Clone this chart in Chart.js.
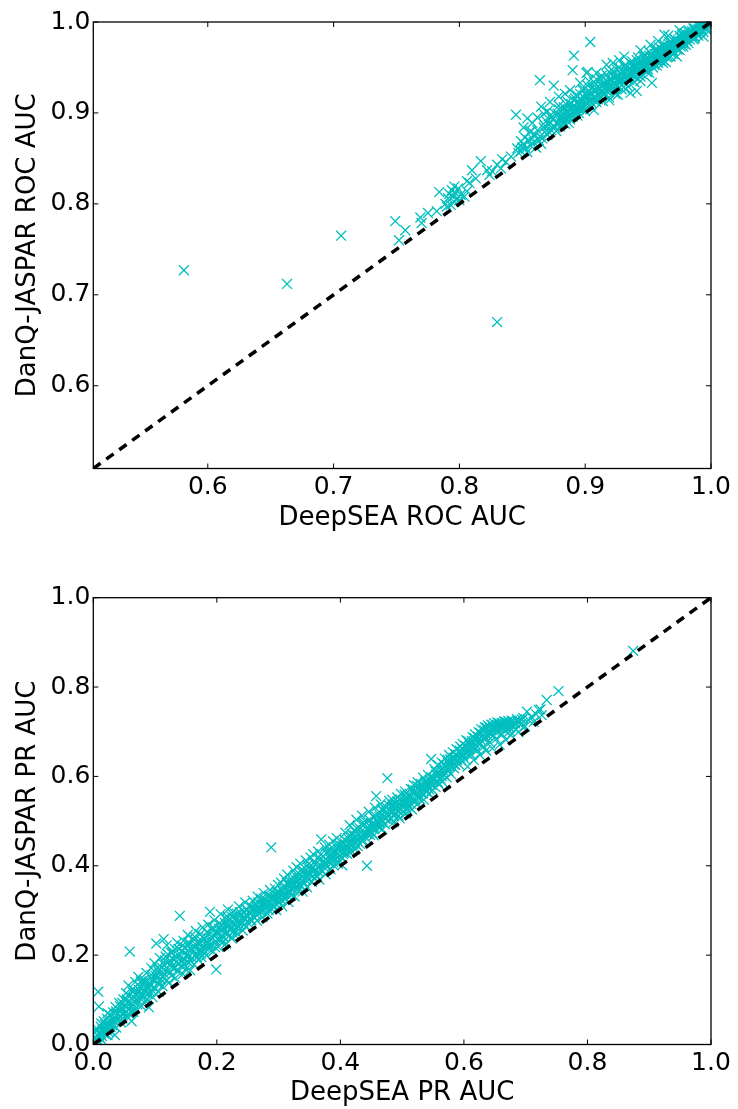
<!DOCTYPE html>
<html>
<head>
<meta charset="UTF-8">
<title>DanQ-JASPAR vs DeepSEA</title>
<style>
	body { margin: 0; background: #fff; }
	.box { position: absolute; left: 0; width: 738px; }
</style>
</head>
<body>
	<script src="https://cdn.jsdelivr.net/npm/chart.js"></script>

	<div class="box" style="top:0; height:555px;"><canvas id="rocChart"></canvas></div>
	<div class="box" style="top:555px; height:554px;"><canvas id="prChart"></canvas></div>

	<script>
		// axis ranges and tick labels
		const rocRange = [0.509, 1.0];
		const rocTicks = [0.6, 0.7, 0.8, 0.9, 1.0];
		const prRange = [0.0, 1.0];
		const prTicks = [0.0, 0.2, 0.4, 0.6, 0.8, 1.0];

		// ROC AUC per target: [DeepSEA, DanQ-JASPAR]
		const rocPoints = [
			[0.581,0.727],[0.663,0.712],[0.706,0.765],[0.830,0.670],
			[0.749,0.781],[0.757,0.771],[0.752,0.760],[0.770,0.779],[0.769,0.785],[0.775,0.790],[0.782,0.792],[0.784,0.813],
			[0.789,0.800],[0.791,0.806],[0.792,0.811],[0.793,0.799],[0.794,0.815],[0.795,0.808],[0.796,0.802],[0.797,0.812],
			[0.798,0.806],[0.799,0.817],[0.800,0.804],[0.801,0.810],[0.796,0.819],[0.790,0.797],
			[0.804,0.808],[0.806,0.814],[0.806,0.825],[0.808,0.823],[0.810,0.837],[0.813,0.828],[0.817,0.847],[0.822,0.837],
			[0.824,0.832],[0.826,0.836],[0.830,0.843],[0.833,0.839],[0.834,0.849],[0.837,0.846],[0.841,0.852],
			[0.846,0.861],[0.849,0.869],[0.845,0.898],[0.854,0.894],[0.847,0.856],[0.849,0.858],[0.850,0.862],[0.851,0.866],
			[0.852,0.873],[0.853,0.861],[0.854,0.857],[0.855,0.870],[0.856,0.879],[0.857,0.864],[0.858,0.872],[0.859,0.868],
			[0.860,0.876],[0.861,0.862],[0.862,0.881],[0.863,0.870],[0.864,0.874],[0.865,0.866],
			[0.851,0.884],[0.858,0.889],[0.862,0.895],[0.867,0.899],[0.857,0.880],
			[0.864,0.936],[0.875,0.930],[0.865,0.907],[0.870,0.902],[0.879,0.918],[0.888,0.925],[0.891,0.963],[0.890,0.947],
			[0.901,0.944],[0.904,0.978],[0.902,0.945],[0.917,0.953],[0.931,0.962],[0.936,0.922],[0.941,0.924],[0.953,0.933],
			[0.963,0.986],[0.973,0.962],[0.964,0.956],[0.994,0.984],
			// main band
			[0.866,0.872],[0.867,0.884],[0.868,0.879],[0.869,0.891],[0.870,0.876],[0.871,0.887],[0.872,0.897],
			[0.873,0.881],[0.874,0.893],[0.875,0.886],[0.876,0.899],[0.877,0.880],[0.878,0.890],[0.879,0.904],
			[0.880,0.885],[0.881,0.897],[0.882,0.892],[0.883,0.906],[0.884,0.888],[0.885,0.901],[0.886,0.912],[0.887,0.895],
			[0.888,0.893],[0.889,0.905],[0.890,0.899],[0.891,0.914],[0.892,0.903],[0.893,0.920],[0.894,0.897],[0.895,0.909],
			[0.896,0.916],[0.897,0.904],[0.898,0.925],[0.899,0.911],[0.900,0.902],[0.901,0.919],[0.902,0.930],[0.903,0.913],
			[0.904,0.907],[0.905,0.922],[0.906,0.915],[0.907,0.934],[0.908,0.926],[0.909,0.912],[0.910,0.929],[0.911,0.919],
			[0.912,0.938],[0.913,0.925],[0.914,0.913],[0.915,0.932],[0.916,0.921],[0.917,0.942],[0.918,0.929],[0.919,0.917],
			[0.920,0.936],[0.921,0.926],[0.922,0.946],[0.923,0.933],[0.924,0.921],[0.925,0.940],[0.926,0.930],[0.927,0.950],
			[0.928,0.937],[0.929,0.926],[0.930,0.945],[0.931,0.933],[0.932,0.953],[0.933,0.941],[0.934,0.929],[0.935,0.948],
			[0.936,0.939],[0.937,0.957],[0.938,0.946],[0.939,0.934],[0.940,0.952],[0.941,0.943],[0.942,0.961],[0.943,0.949],
			[0.944,0.940],[0.945,0.956],[0.946,0.948],[0.947,0.963],[0.948,0.953],[0.949,0.945],[0.950,0.959],[0.951,0.967],
			[0.952,0.954],[0.953,0.962],[0.954,0.950],[0.955,0.969],[0.956,0.958],[0.957,0.965],[0.958,0.955],[0.959,0.972],
			[0.960,0.962],[0.961,0.969],[0.962,0.958],[0.963,0.975],[0.964,0.966],[0.965,0.972],[0.966,0.962],[0.967,0.978],
			[0.968,0.969],[0.969,0.976],[0.970,0.965],[0.971,0.981],[0.972,0.973],[0.973,0.979],[0.974,0.970],[0.975,0.985],
			[0.976,0.977],[0.977,0.983],[0.978,0.973],[0.979,0.988],[0.980,0.980],[0.981,0.985],[0.982,0.977],[0.983,0.990],
			[0.984,0.984],[0.985,0.990],[0.986,0.981],[0.987,0.993],[0.988,0.987],[0.989,0.991],[0.990,0.985],[0.991,0.995],
			[0.992,0.991],[0.993,0.996],[0.994,0.989],[0.995,0.998],[0.996,0.994],[0.997,0.997],[0.998,0.995],[0.999,0.999],[1.000,0.998],
			// dense core of the band
			[0.881,0.895],[0.883,0.899],[0.886,0.903],[0.889,0.904],[0.891,0.908],[0.894,0.912],[0.897,0.913],[0.899,0.917],
			[0.902,0.919],[0.905,0.921],[0.907,0.925],[0.910,0.926],[0.913,0.930],[0.915,0.931],[0.918,0.934],[0.921,0.936],
			[0.923,0.939],[0.926,0.941],[0.929,0.943],[0.931,0.946],[0.934,0.947],[0.937,0.951],[0.939,0.952],[0.942,0.954],
			[0.945,0.956],[0.947,0.958],[0.950,0.961],[0.953,0.962],[0.955,0.965],[0.958,0.967],[0.961,0.969],[0.963,0.972],
			[0.966,0.973],[0.969,0.976],[0.971,0.978],[0.974,0.980],[0.977,0.981],[0.979,0.984],[0.982,0.986],[0.985,0.988],
			[0.987,0.990],[0.990,0.992],[0.993,0.995],[0.996,0.997],
			[0.882,0.889],[0.885,0.894],[0.888,0.898],[0.892,0.899],[0.895,0.904],[0.898,0.906],[0.901,0.911],[0.904,0.913],
			[0.908,0.916],[0.911,0.920],[0.914,0.923],[0.917,0.924],[0.920,0.929],[0.924,0.931],[0.927,0.934],[0.930,0.937],
			[0.933,0.938],[0.936,0.943],[0.940,0.945],[0.943,0.948],[0.946,0.950],[0.949,0.953],[0.952,0.956],[0.956,0.959],
			[0.959,0.962],[0.962,0.964],[0.965,0.968],[0.968,0.970],[0.972,0.974],[0.975,0.977],[0.978,0.979],[0.981,0.983],
			[0.984,0.985],[0.988,0.989],[0.991,0.992],[0.995,0.994],[0.998,0.997],
			[0.868,0.886],[0.871,0.879],[0.873,0.895],[0.876,0.884],[0.878,0.899],[0.880,0.891],[0.882,0.903],[0.884,0.894],
			[0.886,0.908],[0.887,0.889],[0.889,0.910],[0.890,0.896],[0.892,0.916],[0.893,0.906],[0.895,0.900],[0.896,0.921],
			[0.897,0.909],[0.899,0.926],[0.900,0.907],[0.902,0.923],[0.903,0.935],[0.905,0.911],[0.906,0.928],[0.907,0.918],
			[0.909,0.937],[0.910,0.915],[0.912,0.927],[0.913,0.941],[0.915,0.921],[0.916,0.936],[0.918,0.926],[0.919,0.945],
			[0.921,0.931],[0.922,0.941],[0.923,0.926],[0.925,0.948],[0.926,0.936],[0.928,0.944],[0.929,0.931],[0.931,0.951],
			[0.932,0.939],[0.933,0.946],[0.935,0.936],[0.936,0.955],[0.937,0.942],[0.939,0.949],[0.940,0.939],[0.941,0.958],
			[0.942,0.947],[0.944,0.952],[0.945,0.943],[0.946,0.962],[0.948,0.950],[0.949,0.957],[0.950,0.948],[0.951,0.963],
			[0.953,0.955],[0.954,0.960],[0.955,0.953],[0.957,0.970],[0.958,0.959],[0.959,0.965],[0.960,0.957],[0.962,0.974],
			[0.963,0.963],[0.964,0.969],[0.965,0.961],[0.967,0.975],[0.968,0.966],[0.969,0.972],[0.970,0.968],[0.972,0.980],
			[0.973,0.970],[0.974,0.976],[0.976,0.973],[0.977,0.986],[0.978,0.976],[0.979,0.981],[0.981,0.979],[0.982,0.989],
			[0.983,0.981],[0.985,0.985],[0.986,0.993],[0.987,0.984],[0.989,0.988],[0.990,0.996],[0.991,0.989],[0.993,0.992],
			[0.994,0.999],[0.996,0.992],[0.997,0.999],[0.999,0.996],
			[0.944,0.935],[0.951,0.944],[0.957,0.952],[0.962,0.955],[0.968,0.962],[0.975,0.969],[0.980,0.975],[0.987,0.982],
			[0.919,0.914],[0.926,0.920],[0.932,0.926],[0.907,0.903],
			[0.884,0.921],[0.896,0.933],[0.909,0.944],[0.922,0.955],[0.927,0.958],[0.944,0.969],[0.952,0.975],[0.958,0.979],
			[0.966,0.985],[0.975,0.991],[0.872,0.912],[0.879,0.908]
		];

		// PR AUC per target: [DeepSEA, DanQ-JASPAR]
		const prPoints = [
			[0.002,0.004],[0.004,0.012],[0.006,0.021],[0.008,0.118],[0.009,0.085],[0.005,0.030],[0.010,0.016],[0.003,0.008],
			[0.011,0.004],[0.035,0.021],[0.062,0.052],[0.090,0.083],
			[0.011,0.026],[0.012,0.040],[0.014,0.019],[0.015,0.033],[0.017,0.052],[0.018,0.024],[0.019,0.045],
			[0.021,0.036],[0.022,0.058],[0.024,0.029],[0.025,0.047],[0.027,0.066],[0.028,0.039],[0.029,0.054],
			[0.031,0.043],[0.032,0.072],[0.034,0.061],[0.035,0.050],[0.036,0.084],[0.038,0.056],[0.039,0.068],
			[0.041,0.059],[0.042,0.093],[0.044,0.075],[0.045,0.049],[0.046,0.082],[0.048,0.066],[0.049,0.101],
			[0.051,0.071],[0.052,0.088],[0.053,0.115],[0.055,0.062],[0.056,0.095],[0.058,0.078],[0.059,0.208],[0.057,0.132],
			[0.061,0.083],[0.062,0.104],[0.064,0.124],[0.065,0.073],[0.066,0.097],[0.068,0.140],[0.069,0.112],
			[0.071,0.090],[0.072,0.117],[0.073,0.151],[0.075,0.105],[0.076,0.128],[0.078,0.086],[0.079,0.136],
			[0.081,0.109],[0.082,0.145],[0.084,0.123],[0.085,0.097],[0.086,0.160],[0.088,0.131],[0.089,0.113],
			[0.091,0.138],[0.092,0.118],[0.094,0.171],[0.095,0.149],[0.096,0.106],[0.098,0.127],[0.099,0.182],
			[0.101,0.154],[0.102,0.226],[0.104,0.137],[0.105,0.165],[0.106,0.118],[0.108,0.193],[0.109,0.146],
			[0.111,0.172],[0.112,0.131],[0.114,0.236],[0.115,0.158],[0.116,0.188],[0.118,0.143],[0.119,0.222],[0.121,0.201],
			[0.122,0.166],[0.123,0.139],[0.125,0.181],[0.126,0.205],[0.127,0.154],[0.129,0.192],[0.130,0.171],
			[0.132,0.214],[0.133,0.149],[0.135,0.186],[0.136,0.228],[0.137,0.163],[0.139,0.198],[0.140,0.288],
			[0.142,0.176],[0.143,0.209],[0.145,0.158],[0.146,0.232],[0.147,0.191],[0.149,0.217],[0.150,0.169],
			[0.152,0.202],[0.153,0.245],[0.155,0.183],[0.156,0.224],[0.157,0.166],[0.159,0.211],[0.160,0.194],
			[0.162,0.236],[0.163,0.179],[0.165,0.218],[0.166,0.254],[0.167,0.201],[0.169,0.227],[0.170,0.189],
			[0.172,0.212],[0.173,0.247],[0.175,0.196],[0.176,0.231],[0.177,0.262],[0.179,0.219],[0.180,0.205],
			[0.182,0.241],[0.183,0.199],[0.185,0.226],[0.186,0.268],[0.187,0.214],[0.189,0.297],[0.190,0.236],
			[0.191,0.222],[0.192,0.257],[0.194,0.208],[0.195,0.244],[0.196,0.278],[0.198,0.231],[0.199,0.168],
			[0.201,0.249],[0.202,0.219],[0.204,0.271],[0.205,0.236],[0.206,0.292],[0.208,0.256],[0.209,0.228],
			[0.211,0.263],[0.212,0.240],[0.214,0.284],[0.215,0.226],[0.216,0.251],[0.218,0.302],[0.219,0.268],
			[0.221,0.245],[0.222,0.279],[0.224,0.237],[0.225,0.264],[0.226,0.297],[0.228,0.254],[0.229,0.281],
			[0.231,0.262],[0.232,0.293],[0.234,0.248],[0.235,0.276],[0.236,0.309],[0.238,0.267],[0.239,0.288],
			[0.241,0.271],[0.242,0.255],[0.244,0.296],[0.245,0.282],[0.246,0.318],[0.248,0.264],[0.249,0.301],
			[0.251,0.287],[0.252,0.270],[0.254,0.311],[0.255,0.293],[0.256,0.278],[0.258,0.322],[0.259,0.299],
			[0.261,0.284],[0.262,0.316],[0.264,0.301],[0.265,0.277],[0.266,0.331],[0.268,0.293],[0.269,0.308],
			[0.271,0.297],[0.272,0.326],[0.274,0.285],[0.275,0.312],[0.276,0.339],[0.278,0.304],[0.279,0.318],
			[0.281,0.309],[0.282,0.293],[0.284,0.333],[0.285,0.320],[0.286,0.346],[0.288,0.441],[0.289,0.303],
			[0.291,0.327],[0.292,0.311],[0.294,0.349],[0.295,0.336],[0.296,0.301],[0.298,0.322],[0.299,0.357],
			[0.301,0.331],[0.302,0.318],[0.304,0.362],[0.305,0.345],[0.306,0.309],[0.308,0.338],[0.309,0.371],
			[0.311,0.352],[0.312,0.327],[0.314,0.380],[0.315,0.341],[0.316,0.319],[0.318,0.366],[0.319,0.349],
			[0.321,0.358],[0.322,0.336],[0.324,0.389],[0.325,0.372],[0.326,0.331],[0.328,0.354],[0.329,0.397],
			[0.331,0.368],[0.332,0.344],[0.334,0.381],[0.335,0.405],[0.336,0.356],[0.338,0.375],[0.339,0.342],
			[0.341,0.388],[0.342,0.361],[0.344,0.412],[0.345,0.377],[0.346,0.352],[0.348,0.395],[0.349,0.369],
			[0.351,0.382],[0.352,0.418],[0.354,0.364],[0.355,0.398],[0.356,0.426],[0.358,0.373],[0.359,0.391],
			[0.361,0.406],[0.362,0.378],[0.364,0.432],[0.365,0.395],[0.366,0.369],[0.368,0.415],[0.369,0.459],
			[0.371,0.387],[0.372,0.421],[0.374,0.403],[0.375,0.441],[0.376,0.381],[0.378,0.412],[0.379,0.430],
			[0.381,0.409],[0.382,0.447],[0.384,0.392],[0.385,0.426],[0.386,0.417],[0.388,0.455],[0.389,0.401],
			[0.391,0.431],[0.392,0.414],[0.394,0.462],[0.395,0.439],[0.396,0.405],[0.398,0.447],[0.399,0.423],
			[0.401,0.436],[0.402,0.418],[0.403,0.401],[0.405,0.452],[0.406,0.429],[0.408,0.474],[0.409,0.444],
			[0.411,0.427],[0.412,0.462],[0.414,0.441],[0.415,0.491],[0.416,0.453],[0.418,0.433],[0.419,0.470],
			[0.421,0.448],[0.422,0.479],[0.424,0.437],[0.425,0.462],[0.426,0.503],[0.428,0.455],[0.429,0.471],
			[0.431,0.484],[0.432,0.449],[0.434,0.466],[0.435,0.512],[0.436,0.458],[0.438,0.491],[0.439,0.475],
			[0.441,0.463],[0.442,0.497],[0.443,0.400],[0.445,0.478],[0.446,0.521],[0.448,0.469],[0.449,0.486],
			[0.451,0.494],[0.452,0.473],[0.454,0.509],[0.455,0.482],[0.456,0.530],[0.458,0.556],[0.459,0.499],
			[0.461,0.487],[0.462,0.516],[0.464,0.495],[0.465,0.538],[0.466,0.504],[0.468,0.482],[0.469,0.523],
			[0.471,0.511],[0.472,0.493],[0.474,0.531],[0.475,0.517],[0.476,0.596],[0.478,0.502],[0.479,0.545],
			[0.481,0.524],[0.482,0.506],[0.484,0.548],[0.485,0.531],[0.486,0.497],[0.488,0.539],[0.489,0.517],
			[0.491,0.529],[0.492,0.553],[0.494,0.512],[0.495,0.540],[0.496,0.506],[0.498,0.561],[0.499,0.534],
			[0.501,0.521],[0.502,0.547],[0.504,0.536],[0.505,0.566],[0.506,0.517],[0.508,0.552],[0.509,0.539],
			[0.511,0.558],[0.512,0.531],[0.514,0.572],[0.515,0.549],[0.516,0.526],[0.518,0.563],[0.519,0.581],
			[0.521,0.546],[0.522,0.569],[0.524,0.537],[0.525,0.587],[0.526,0.558],[0.528,0.576],[0.529,0.549],
			[0.531,0.583],[0.532,0.562],[0.534,0.597],[0.535,0.548],[0.536,0.574],[0.538,0.590],[0.539,0.566],
			[0.541,0.579],[0.542,0.603],[0.544,0.561],[0.545,0.592],[0.546,0.584],[0.547,0.639],[0.549,0.570],
			[0.551,0.597],[0.552,0.617],[0.554,0.576],[0.555,0.604],[0.556,0.589],[0.558,0.626],[0.559,0.583],
			[0.561,0.610],[0.562,0.595],[0.564,0.631],[0.565,0.588],[0.566,0.619],[0.568,0.603],[0.569,0.640],
			[0.571,0.623],[0.572,0.598],[0.574,0.637],[0.575,0.612],[0.576,0.648],[0.578,0.629],[0.579,0.605],
			[0.581,0.633],[0.582,0.654],[0.584,0.618],[0.585,0.642],[0.586,0.626],[0.588,0.661],[0.589,0.637],
			[0.591,0.645],[0.592,0.627],[0.594,0.667],[0.595,0.652],[0.596,0.635],[0.598,0.673],[0.599,0.649],
			[0.601,0.657],[0.602,0.638],[0.604,0.681],[0.605,0.664],[0.606,0.622],[0.608,0.675],[0.609,0.652],
			[0.611,0.669],[0.612,0.648],[0.614,0.688],[0.615,0.676],[0.616,0.637],[0.618,0.694],[0.619,0.662],
			[0.621,0.681],[0.622,0.659],[0.624,0.699],[0.625,0.672],[0.626,0.648],[0.628,0.706],[0.629,0.688],
			[0.631,0.693],[0.632,0.667],[0.634,0.710],[0.635,0.684],[0.636,0.658],[0.638,0.701],[0.639,0.714],
			[0.641,0.697],[0.642,0.676],[0.644,0.716],[0.645,0.706],[0.646,0.663],[0.648,0.692],[0.649,0.719],
			[0.651,0.709],[0.652,0.684],[0.654,0.721],[0.655,0.699],[0.656,0.716],[0.658,0.671],[0.659,0.712],
			[0.661,0.719],[0.662,0.694],[0.664,0.714],[0.665,0.723],[0.666,0.703],[0.668,0.682],[0.669,0.720],
			[0.671,0.716],[0.672,0.724],[0.674,0.701],[0.675,0.719],[0.676,0.692],[0.678,0.722],[0.679,0.713],
			[0.682,0.721],[0.684,0.706],[0.686,0.728],[0.688,0.699],[0.690,0.724],[0.693,0.717],[0.696,0.731],[0.699,0.712],
			[0.702,0.745],[0.705,0.726],[0.709,0.733],[0.713,0.722],[0.717,0.739],[0.721,0.749],[0.724,0.750],[0.726,0.737],
			[0.734,0.771],[0.753,0.791],[0.874,0.881],
			// second layer, filling the dense core of the band
			[0.003,0.017],[0.007,0.009],[0.006,0.035],[0.013,0.011],[0.016,0.028],[0.013,0.047],[0.019,0.034],[0.023,0.021],
			[0.026,0.044],[0.023,0.070],[0.028,0.031],[0.033,0.055],[0.037,0.038],[0.037,0.074],[0.043,0.064],[0.047,0.058],
			[0.043,0.086],[0.047,0.093],
			[0.053,0.083],[0.054,0.101],[0.057,0.069],[0.057,0.110],[0.063,0.091],[0.064,0.117],[0.067,0.079],[0.067,0.104],
			[0.073,0.098],[0.074,0.122],[0.077,0.112],[0.077,0.141],
			[0.083,0.116],[0.084,0.138],[0.087,0.102],[0.087,0.127],[0.093,0.131],[0.094,0.156],[0.097,0.119],[0.097,0.144],
			[0.103,0.148],[0.104,0.172],[0.107,0.135],[0.107,0.159],[0.113,0.151],[0.114,0.179],[0.117,0.166],[0.117,0.197],
			[0.123,0.159],[0.124,0.188],[0.127,0.173],[0.128,0.206],[0.133,0.172],[0.134,0.196],[0.137,0.181],[0.138,0.214],
			[0.143,0.188],[0.144,0.221],[0.147,0.179],[0.148,0.204],[0.153,0.197],[0.154,0.229],[0.157,0.188],[0.158,0.216],
			[0.163,0.207],[0.164,0.241],[0.167,0.222],[0.168,0.195],[0.173,0.226],[0.174,0.203],[0.177,0.241],[0.178,0.213],
			[0.183,0.232],[0.184,0.252],[0.187,0.221],[0.188,0.246],[0.193,0.239],[0.194,0.262],[0.197,0.218],[0.198,0.251],
			[0.203,0.259],[0.204,0.233],[0.207,0.268],[0.208,0.243],[0.213,0.272],[0.214,0.249],[0.217,0.262],[0.218,0.285],
			[0.223,0.258],[0.224,0.286],[0.227,0.271],[0.228,0.247],[0.233,0.281],[0.234,0.264],[0.237,0.296],[0.238,0.276],
			[0.243,0.285],[0.244,0.268],[0.247,0.303],[0.248,0.289],[0.253,0.296],[0.254,0.279],[0.257,0.307],[0.258,0.288],
			[0.263,0.309],[0.264,0.291],[0.267,0.318],[0.268,0.302],[0.273,0.316],[0.274,0.299],[0.277,0.326],[0.278,0.311],
			[0.283,0.318],[0.284,0.301],[0.287,0.331],[0.288,0.314],[0.293,0.329],[0.294,0.317],[0.297,0.341],[0.298,0.331],
			[0.303,0.338],[0.304,0.324],[0.307,0.352],[0.308,0.329],[0.313,0.361],[0.314,0.334],[0.317,0.357],[0.318,0.343],
			[0.323,0.363],[0.324,0.347],[0.327,0.378],[0.328,0.362],[0.333,0.373],[0.334,0.357],[0.337,0.391],[0.338,0.366],
			[0.343,0.381],[0.344,0.368],[0.347,0.402],[0.348,0.383],[0.353,0.391],[0.354,0.377],[0.357,0.407],[0.358,0.389],
			[0.363,0.417],[0.364,0.387],[0.367,0.402],[0.368,0.425],[0.373,0.411],[0.374,0.396],[0.377,0.428],[0.378,0.402],
			[0.383,0.437],[0.384,0.414],[0.387,0.428],[0.388,0.409],[0.393,0.422],[0.394,0.447],[0.397,0.436],[0.398,0.413],
			[0.403,0.444],[0.404,0.427],[0.407,0.458],[0.408,0.437],[0.413,0.451],[0.414,0.432],[0.417,0.466],[0.418,0.446],
			[0.423,0.468],[0.424,0.452],[0.427,0.483],[0.428,0.444],[0.433,0.476],[0.434,0.457],[0.437,0.497],[0.438,0.467],
			[0.443,0.482],[0.444,0.471],[0.447,0.503],[0.448,0.478],[0.453,0.488],[0.454,0.468],[0.457,0.511],[0.458,0.491],
			[0.463,0.509],[0.464,0.486],[0.467,0.527],[0.468,0.499],[0.473,0.505],[0.474,0.522],[0.477,0.512],[0.478,0.536],
			[0.483,0.519],[0.484,0.537],[0.487,0.511],[0.488,0.528],[0.493,0.544],[0.494,0.522],[0.497,0.548],[0.498,0.527],
			[0.503,0.541],[0.504,0.559],[0.507,0.528],[0.508,0.546],[0.513,0.553],[0.514,0.539],[0.517,0.571],[0.518,0.548],
			[0.523,0.561],[0.524,0.579],[0.527,0.551],[0.528,0.568],[0.533,0.577],[0.534,0.562],[0.537,0.586],[0.538,0.571],
			[0.543,0.586],[0.544,0.571],[0.547,0.598],[0.548,0.581],[0.553,0.593],[0.554,0.611],[0.557,0.601],[0.558,0.587],
			[0.563,0.614],[0.564,0.601],[0.567,0.628],[0.568,0.611],[0.573,0.617],[0.574,0.631],[0.577,0.622],[0.578,0.638],
			[0.583,0.641],[0.584,0.627],[0.587,0.649],[0.588,0.633],[0.593,0.658],[0.594,0.641],[0.597,0.662],[0.598,0.645],
			[0.603,0.668],[0.604,0.651],[0.607,0.679],[0.608,0.661],[0.613,0.679],[0.614,0.663],[0.617,0.686],[0.618,0.671],
			[0.623,0.689],[0.624,0.676],[0.627,0.697],[0.628,0.681],[0.633,0.703],[0.634,0.689],[0.637,0.709],[0.638,0.692],
			[0.643,0.709],[0.644,0.694],[0.647,0.714],[0.648,0.703],[0.653,0.715],[0.654,0.704],[0.657,0.719],[0.658,0.708],
			[0.663,0.717],[0.664,0.707],[0.667,0.722],[0.668,0.711],[0.673,0.718],[0.674,0.709],[0.677,0.725],[0.678,0.716],
			[0.683,0.719],[0.687,0.722],[0.691,0.716],[0.694,0.727]
		];

		Chart.defaults.font.family = "'DejaVu Sans', sans-serif";
		Chart.defaults.color = '#000';

		// matplotlib style frame with inward ticks on all four sides
		const framePlugin = {
			id: 'frame',
			afterDatasetsDraw(chart, args, opts) {
				const ctx = chart.ctx;
				const a = chart.chartArea;
				const sx = chart.scales.x, sy = chart.scales.y;
				ctx.save();
				ctx.strokeStyle = '#000';
				ctx.lineWidth = 1;
				ctx.beginPath();
				opts.ticks.forEach(function(v){
					const x = sx.getPixelForValue(v);
					const y = sy.getPixelForValue(v);
					ctx.moveTo(x, a.bottom); ctx.lineTo(x, a.bottom - 5);
					ctx.moveTo(x, a.top); ctx.lineTo(x, a.top + 5);
					ctx.moveTo(a.left, y); ctx.lineTo(a.left + 5, y);
					ctx.moveTo(a.right, y); ctx.lineTo(a.right - 5, y);
				});
				ctx.stroke();
				ctx.lineWidth = 1.3;
				ctx.strokeRect(a.left, a.top, a.right - a.left, a.bottom - a.top);
				ctx.restore();
			}
		};

		function makeChart(id, pairs, range, ticks, xTitle, yTitle, lay) {
			const tickFont = { size: 25, lineHeight: 1 };
			const titleFont = { size: 26, lineHeight: 1 };
			const setTicks = function(scale){ scale.ticks = ticks.map(function(v){ return { value: v }; }); };
			const fmt = function(v){ return v.toFixed(1); };

			return new Chart(document.getElementById(id), {
				type: 'scatter',
				data: {
					datasets: [{
						type: 'line',
						data: range.map(function(v){ return { x: v, y: v }; }),
						borderColor: '#000',
						borderWidth: 3.5,
						borderDash: [9, 7],
						pointRadius: 0,
						fill: false,
						clip: 0
					}, {
						data: pairs.map(function(p){ return { x: p[0], y: p[1] }; }),
						pointStyle: 'crossRot',
						pointRadius: 7,
						borderWidth: 1.3,
						borderColor: 'rgb(0, 191, 191)',
						backgroundColor: 'rgb(0, 191, 191)',
						clip: 0
					}]
				},
				options: {
					responsive: true,
					maintainAspectRatio: false,
					animation: false,
					events: [],
					layout: { padding: { top: lay.top, right: 27, left: 0, bottom: 0 } },
					scales: {
						x: {
							type: 'linear',
							min: range[0], max: range[1],
							afterBuildTicks: setTicks,
							afterFit: function(s){ s.height = lay.xHeight; },
							grid: { display: false, drawTicks: false },
							border: { display: false },
							ticks: { font: tickFont, padding: 6, maxRotation: 0, callback: fmt },
							title: { display: true, text: xTitle, font: titleFont, padding: { top: 0, bottom: lay.xTitlePad } }
						},
						y: {
							type: 'linear',
							min: range[0], max: range[1],
							afterBuildTicks: setTicks,
							afterFit: function(s){ s.width = 93.3; },
							grid: { display: false, drawTicks: false },
							border: { display: false },
							ticks: { font: tickFont, padding: 3, callback: fmt },
							title: { display: true, text: yTitle, font: titleFont, padding: { top: 15, bottom: 0 } }
						}
					},
					plugins: {
						legend: { display: false },
						tooltip: { enabled: false },
						frame: { ticks: ticks }
					}
				},
				plugins: [framePlugin]
			});
		}

		makeChart('rocChart', rocPoints, rocRange, rocTicks, 'DeepSEA ROC AUC', 'DanQ-JASPAR ROC AUC',
			{ top: 22, xHeight: 86.5, xTitlePad: 24 });
		makeChart('prChart', prPoints, prRange, prTicks, 'DeepSEA PR AUC', 'DanQ-JASPAR PR AUC',
			{ top: 42.7, xHeight: 64.5, xTitlePad: 3 });
	</script>
</body>
</html>
